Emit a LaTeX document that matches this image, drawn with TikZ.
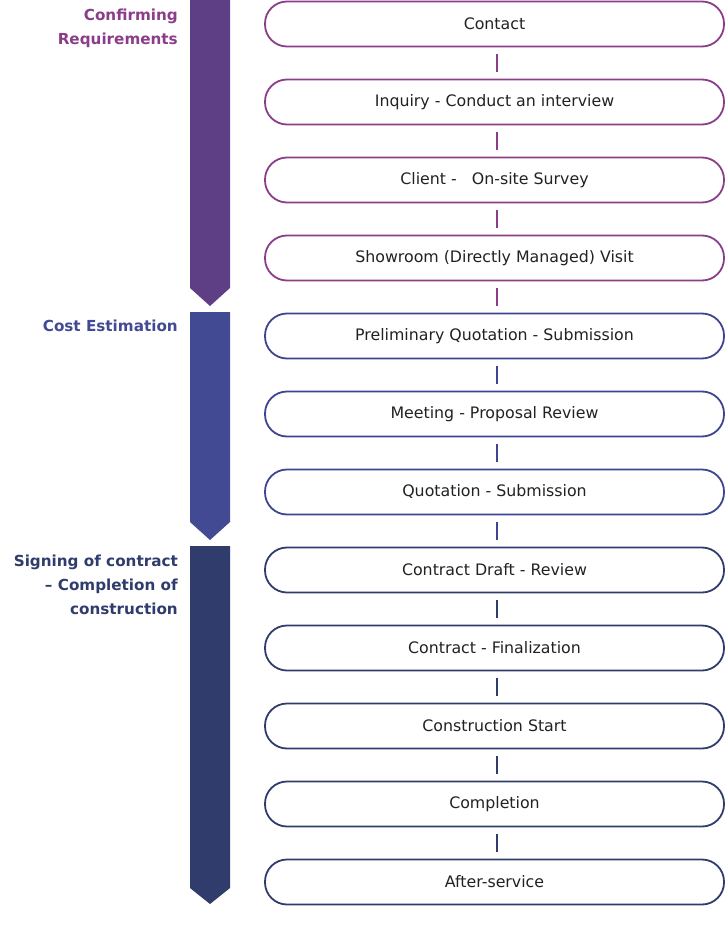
\documentclass[tikz,border=0pt]{standalone}
\usepackage{fontspec}
\setmainfont{DejaVu Sans}
\definecolor{grpA}{HTML}{5E3F86}
\definecolor{grpAline}{HTML}{8A3D88}
\definecolor{grpB}{HTML}{414A93}
\definecolor{grpBline}{HTML}{3E4590}
\definecolor{grpC}{HTML}{2F3C6C}
\definecolor{txt}{HTML}{222222}
\begin{document}
\begin{tikzpicture}[x=1pt,y=-1pt,
  stepbox/.style={draw, line width=1.8pt, rounded corners=22pt, minimum width=459pt, minimum height=45pt,
    inner sep=0pt, text=txt, font=\fontsize{15.8}{18}\selectfont, fill=white},
  conn/.style={line width=1.8pt, shorten <=7pt, shorten >=7pt},
  phase/.style={font=\bfseries\fontsize{15.2}{24}\selectfont, align=right, anchor=north east, inner sep=0pt}]
\useasboundingbox (0,0) rectangle (725,936);
% phase bars
\fill[grpA] (190,0) -- (230,0) -- (230,288) -- (210,306) -- (190,288) -- cycle;
\fill[grpB] (190,312) -- (230,312) -- (230,522) -- (210,540) -- (190,522) -- cycle;
\fill[grpC] (190,546) -- (230,546) -- (230,888) -- (210,904) -- (190,888) -- cycle;
% phase labels
\node[phase, text=grpAline] (pa) at (178,8.5) {Confirming\\Requirements};
\node[phase, text=grpB] (pb) at (178,319.5) {Cost Estimation};
\node[phase, text=grpC] (pc) at (178,554.5) {Signing of contract\\– Completion of\\construction};
% steps
\node[stepbox, draw=grpAline] (b1) at (494.5,24) {Contact};
\node[stepbox, draw=grpAline] (b2) at (494.5,102) {Inquiry - Conduct an interview};
\node[stepbox, draw=grpAline] (b3) at (494.5,180) {Client -\ \ \ On-site Survey};
\node[stepbox, draw=grpAline] (b4) at (494.5,258) {Showroom (Directly Managed) Visit};
\node[stepbox, draw=grpBline] (b5) at (494.5,336) {Preliminary Quotation - Submission};
\node[stepbox, draw=grpBline] (b6) at (494.5,414) {Meeting - Proposal Review};
\node[stepbox, draw=grpBline] (b7) at (494.5,492) {Quotation - Submission};
\node[stepbox, draw=grpC] (b8) at (494.5,570) {Contract Draft - Review};
\node[stepbox, draw=grpC] (b9) at (494.5,648) {Contract - Finalization};
\node[stepbox, draw=grpC] (b10) at (494.5,726) {Construction Start};
\node[stepbox, draw=grpC] (b11) at (494.5,804) {Completion};
\node[stepbox, draw=grpC] (b12) at (494.5,882) {After-service};
% connectors
\foreach \a/\b/\c in {b1/b2/grpAline,b2/b3/grpAline,b3/b4/grpAline,b4/b5/grpAline,
  b5/b6/grpBline,b6/b7/grpBline,b7/b8/grpBline,
  b8/b9/grpC,b9/b10/grpC,b10/b11/grpC,b11/b12/grpC}
  \draw[conn, draw=\c] ([xshift=2.5pt]\a.south) -- ([xshift=2.5pt]\b.north);
\end{tikzpicture}
\end{document}
